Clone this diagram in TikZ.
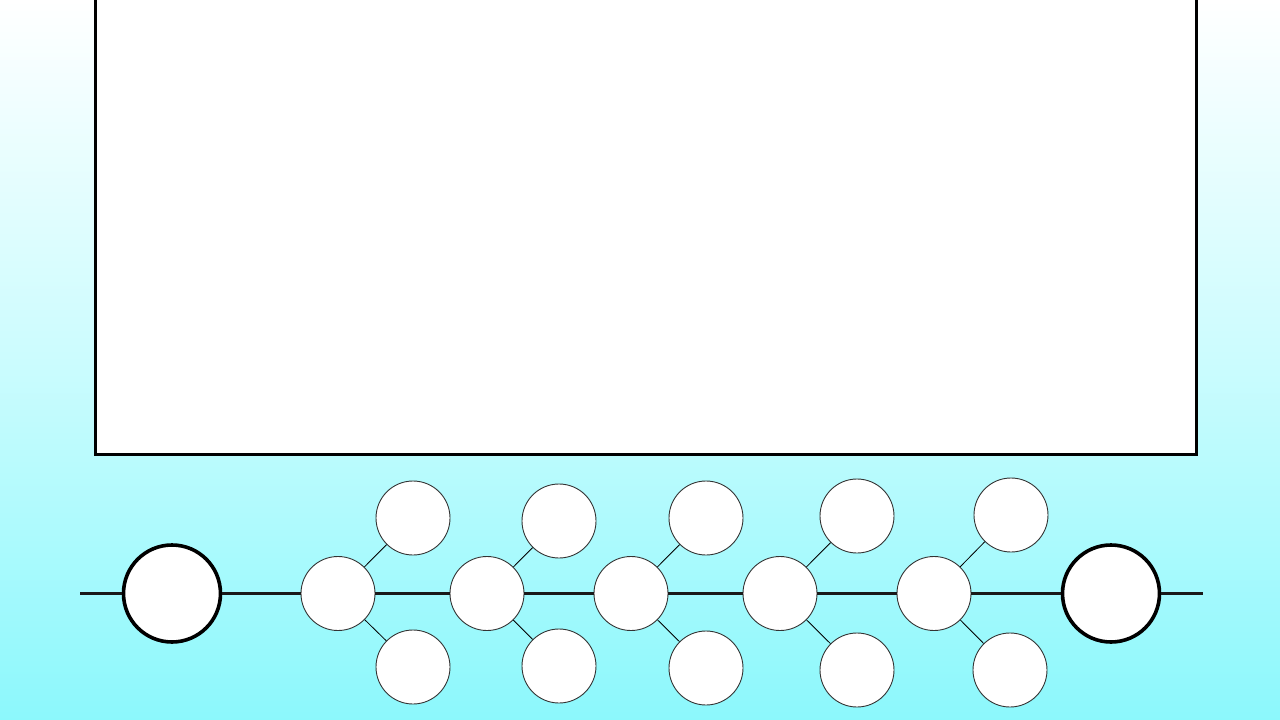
\documentclass[tikz,border=0pt]{standalone}
\begin{document}
\begin{tikzpicture}[x=1pt,y=-1pt,
  bigc/.style={circle,draw=black,line width=3.6pt,fill=white,minimum size=97pt,inner sep=0pt},
  smallc/.style={circle,draw=black!80,line width=0.9pt,fill=white,minimum size=74pt,inner sep=0pt},
  mainline/.style={line width=2.2pt,draw=black!90},
  branch/.style={line width=0.8pt,draw=black}]
\definecolor{bgbot}{RGB}{140,248,252}
\useasboundingbox (0,0) rectangle (1280,720);
\shade[top color=white,bottom color=bgbot,middle color=white!55!bgbot] (0,0) rectangle (1280,720);
\draw[line width=3pt,fill=white] (95,-10) rectangle (1196,454);
% nodes
\node[bigc] (L) at (172,593.5) {};
\node[bigc] (R) at (1111,593.5) {};
\foreach \i/\cx/\ux/\uy/\dx/\dy in {1/338/413/518/413/667, 2/487/559/521/559/666, 3/631/706/518/706/668, 4/780/857/516/857/670, 5/934/1011/515/1010/670}{
  \node[smallc] (c\i) at (\cx,593.5) {};
  \node[smallc] (u\i) at (\ux,\uy) {};
  \node[smallc] (d\i) at (\dx,\dy) {};
  \draw[branch] (c\i) -- (u\i);
  \draw[branch] (c\i) -- (d\i);
}
\coordinate (s) at (80,593.5);
\coordinate (e) at (1203,593.5);
\draw[mainline] (s) -- (L);
\draw[mainline] (L) -- (c1);
\draw[mainline] (c1) -- (c2);
\draw[mainline] (c2) -- (c3);
\draw[mainline] (c3) -- (c4);
\draw[mainline] (c4) -- (c5);
\draw[mainline] (c5) -- (R);
\draw[mainline] (R) -- (e);
\end{tikzpicture}
\end{document}
